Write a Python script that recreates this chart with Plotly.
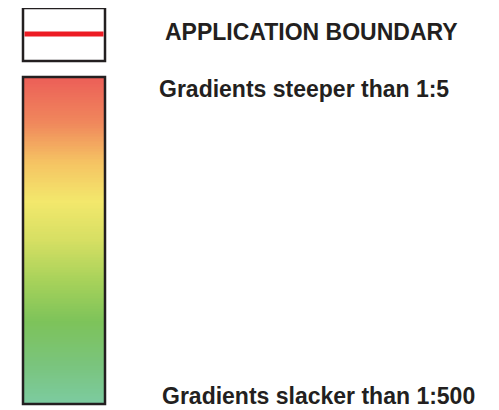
import numpy as np
import plotly.graph_objects as go

# ---- data ----
legend_labels = ["APPLICATION BOUNDARY", "Gradients steeper than 1:5", "Gradients slacker than 1:500"]
gradient_stops = [0.0, 0.12, 0.25, 0.37, 0.50, 0.62, 0.74, 0.86, 1.0]   # 0 = slack (bottom), 1 = steep (top)
gradient_colors = ["#7CCBA0", "#7AC47C", "#7DC35A", "#A5D15A", "#D6DF63",
                   "#F3E86C", "#F5C363", "#F0885C", "#EC5F58"]
boundary_color = "#ED1C24"

W, H = 499, 410
OFF = 8  # page body margin in the browser
fig = go.Figure()

# gradient bar
n = 200
levels = np.linspace(1, 0, n)
bar_x = [23, 105]
bar_y = np.linspace(77, 404, n + 1)
fig.add_trace(go.Heatmap(
    z=[[v] for v in levels], x=bar_x, y=bar_y,
    colorscale=[[p, c] for p, c in zip(gradient_stops, gradient_colors)],
    zmin=0, zmax=1, showscale=False, hoverinfo="skip"))

shapes = [
    dict(type="rect", x0=23, x1=105, y0=77, y1=404, line=dict(color="#231F20", width=2.5)),
    dict(type="rect", x0=23, x1=105, y0=8, y1=61, line=dict(color="#231F20", width=2.5),
         fillcolor="white"),
    dict(type="line", x0=24.5, x1=103.5, y0=34, y1=34, line=dict(color=boundary_color, width=5)),
]
for s in shapes:
    s.update(xref="x", yref="y")
fig.update_layout(shapes=shapes)

font = dict(family="Liberation Sans, Arial, sans-serif", size=23, color="#231F20")
anns = [
    dict(text="<b>%s</b>" % legend_labels[0], x=163, y=32),
    dict(text="<b>%s</b>" % legend_labels[1], x=157, y=89),
    dict(text="<b>%s</b>" % legend_labels[2], x=160, y=396),
]
for a in anns:
    a.update(xref="x", yref="y", xanchor="left", yanchor="middle", showarrow=False, font=font)
fig.update_layout(annotations=anns)

fig.update_layout(
    width=W - OFF, height=H - OFF, margin=dict(l=0, r=0, t=0, b=0),
    paper_bgcolor="white", plot_bgcolor="white",
    xaxis=dict(range=[OFF, W], visible=False, fixedrange=True),
    yaxis=dict(range=[H, OFF], visible=False, fixedrange=True),
)
fig.write_html("out.html")
